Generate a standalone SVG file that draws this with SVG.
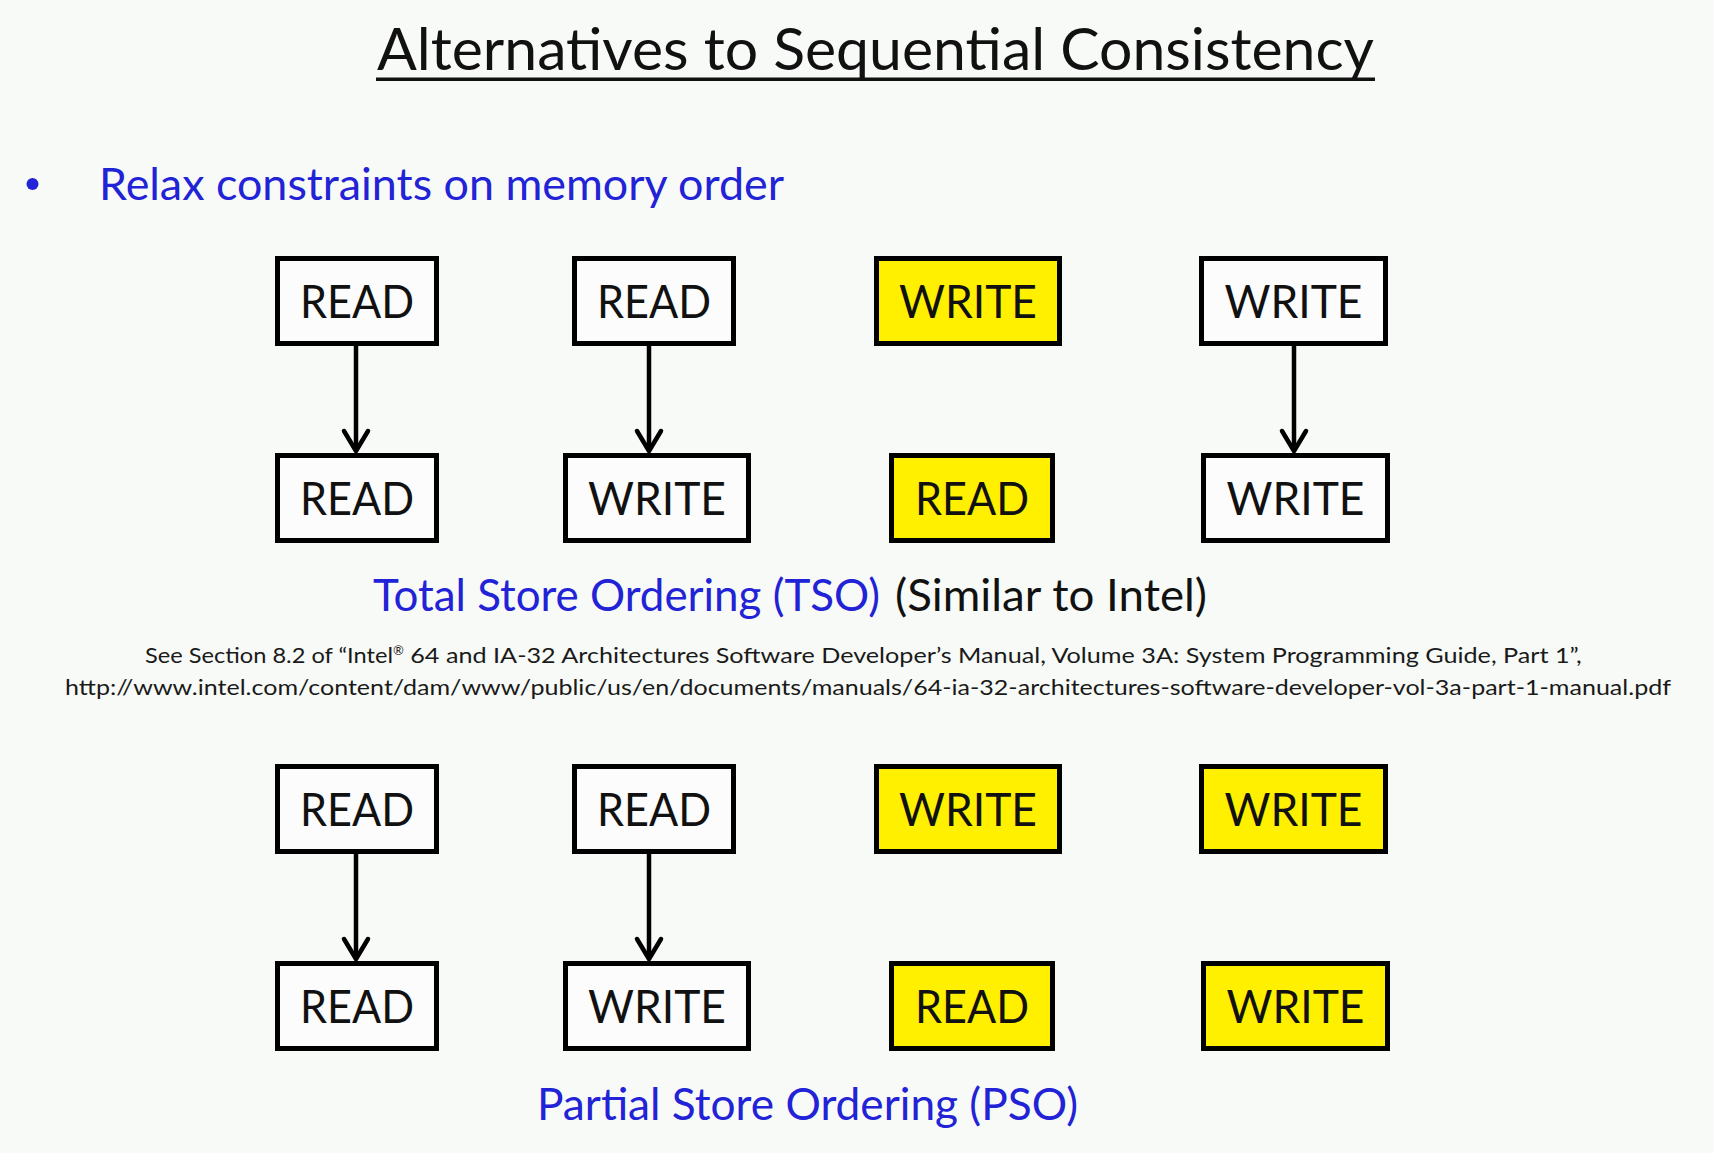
<svg xmlns="http://www.w3.org/2000/svg" width="1714" height="1153" viewBox="0 0 1714 1153">
  <style>
    .bg { fill: #f8faf7; }
    .title { font-family: Lato, "Open Sans", "Liberation Sans", sans-serif; font-size: 59px; fill: #111; }
    .blue { font-family: Lato, "Open Sans", "Liberation Sans", sans-serif; font-size: 44px; fill: #2222d6; }
    .black { font-family: Lato, "Open Sans", "Liberation Sans", sans-serif; font-size: 44px; fill: #111; }
    .note { font-family: Lato, "Open Sans", "Liberation Sans", sans-serif; font-size: 22px; fill: #1a1a1a; }
    .box { fill: #fbfcfb; stroke: #000; stroke-width: 5; }
    .box.hl { fill: #fff000; }
    .lbl { font-family: Lato, "Open Sans", "Liberation Sans", sans-serif; font-size: 46px; fill: #111; text-anchor: middle; }
    .edge { stroke: #000; stroke-width: 4.5; fill: none; }
  </style>
  <defs>
    <marker id="chev" markerUnits="userSpaceOnUse" viewBox="-26 -16 30 32" refX="0" refY="0" markerWidth="30" markerHeight="32" orient="auto">
      <path d="M -20 -12 L 0 0 L -20 12" fill="none" stroke="#000" stroke-width="4.5" stroke-linecap="round" stroke-linejoin="round"/>
    </marker>
  </defs>

  <rect class="bg" x="0" y="0" width="1714" height="1153"/>

  <!-- heading -->
  <text class="title" x="377" y="70" textLength="997" lengthAdjust="spacingAndGlyphs">Alternatives to Sequential Consistency</text>
  <rect x="376" y="77.5" width="999" height="3.5" fill="#111"/>

  <!-- bullet -->
  <circle cx="32.5" cy="184" r="6" fill="#2222d6"/>
  <text class="blue" x="99" y="200" textLength="685" lengthAdjust="spacingAndGlyphs">Relax constraints on memory order</text>

  <!-- TSO: top row -->
  <g id="tso-r1"><rect class="box" x="277.5" y="258.5" width="159" height="85"/><text class="lbl" x="357" y="317.5" textLength="114" lengthAdjust="spacingAndGlyphs">READ</text></g>
  <g id="tso-r2"><rect class="box" x="574.5" y="258.5" width="159" height="85"/><text class="lbl" x="654" y="317.5" textLength="114" lengthAdjust="spacingAndGlyphs">READ</text></g>
  <g id="tso-w3"><rect class="box hl" x="876.5" y="258.5" width="183" height="85"/><text class="lbl" x="968" y="317.5" textLength="138" lengthAdjust="spacingAndGlyphs">WRITE</text></g>
  <g id="tso-w4"><rect class="box" x="1201.5" y="258.5" width="184" height="85"/><text class="lbl" x="1293.5" y="317.5" textLength="138" lengthAdjust="spacingAndGlyphs">WRITE</text></g>
  <!-- TSO: bottom row -->
  <g id="tso-r1b"><rect class="box" x="277.5" y="455.5" width="159" height="85"/><text class="lbl" x="357" y="514.5" textLength="114" lengthAdjust="spacingAndGlyphs">READ</text></g>
  <g id="tso-w2b"><rect class="box" x="565.5" y="455.5" width="183" height="85"/><text class="lbl" x="657" y="514.5" textLength="138" lengthAdjust="spacingAndGlyphs">WRITE</text></g>
  <g id="tso-r3b"><rect class="box hl" x="891.5" y="455.5" width="161" height="85"/><text class="lbl" x="972" y="514.5" textLength="114" lengthAdjust="spacingAndGlyphs">READ</text></g>
  <g id="tso-w4b"><rect class="box" x="1203.5" y="455.5" width="184" height="85"/><text class="lbl" x="1295.5" y="514.5" textLength="138" lengthAdjust="spacingAndGlyphs">WRITE</text></g>

  <text class="blue" x="373" y="611" textLength="507" lengthAdjust="spacingAndGlyphs">Total Store Ordering (TSO)</text>
  <text class="black" x="895" y="611" textLength="312" lengthAdjust="spacingAndGlyphs">(Similar to Intel)</text>

  <!-- reference note: two lines, the mark after Intel set small and raised -->
  <text class="note" x="145" y="663">
    <tspan textLength="248" lengthAdjust="spacingAndGlyphs">See Section 8.2 of “Intel</tspan><tspan font-size="13" dy="-8">®</tspan><tspan dy="8" textLength="1178" lengthAdjust="spacingAndGlyphs"> 64 and IA-32 Architectures Software Developer’s Manual, Volume 3A: System Programming Guide, Part 1”,</tspan>
  </text>
  <text class="note" x="65" y="695" textLength="1606" lengthAdjust="spacingAndGlyphs">http://www.intel.com/content/dam/www/public/us/en/documents/manuals/64-ia-32-architectures-software-developer-vol-3a-part-1-manual.pdf</text>

  <!-- PSO: top row -->
  <g id="pso-r1"><rect class="box" x="277.5" y="766.5" width="159" height="85"/><text class="lbl" x="357" y="825.5" textLength="114" lengthAdjust="spacingAndGlyphs">READ</text></g>
  <g id="pso-r2"><rect class="box" x="574.5" y="766.5" width="159" height="85"/><text class="lbl" x="654" y="825.5" textLength="114" lengthAdjust="spacingAndGlyphs">READ</text></g>
  <g id="pso-w3"><rect class="box hl" x="876.5" y="766.5" width="183" height="85"/><text class="lbl" x="968" y="825.5" textLength="138" lengthAdjust="spacingAndGlyphs">WRITE</text></g>
  <g id="pso-w4"><rect class="box hl" x="1201.5" y="766.5" width="184" height="85"/><text class="lbl" x="1293.5" y="825.5" textLength="138" lengthAdjust="spacingAndGlyphs">WRITE</text></g>
  <!-- PSO: bottom row -->
  <g id="pso-r1b"><rect class="box" x="277.5" y="963.5" width="159" height="85"/><text class="lbl" x="357" y="1022.5" textLength="114" lengthAdjust="spacingAndGlyphs">READ</text></g>
  <g id="pso-w2b"><rect class="box" x="565.5" y="963.5" width="183" height="85"/><text class="lbl" x="657" y="1022.5" textLength="138" lengthAdjust="spacingAndGlyphs">WRITE</text></g>
  <g id="pso-r3b"><rect class="box hl" x="891.5" y="963.5" width="161" height="85"/><text class="lbl" x="972" y="1022.5" textLength="114" lengthAdjust="spacingAndGlyphs">READ</text></g>
  <g id="pso-w4b"><rect class="box hl" x="1203.5" y="963.5" width="184" height="85"/><text class="lbl" x="1295.5" y="1022.5" textLength="138" lengthAdjust="spacingAndGlyphs">WRITE</text></g>

  <text class="blue" x="537" y="1120" textLength="541" lengthAdjust="spacingAndGlyphs">Partial Store Ordering (PSO)</text>

  <!-- ordering arrows -->
  <g id="connectors">
    <line class="edge" x1="356" y1="346" x2="356" y2="451" marker-end="url(#chev)"/>
    <line class="edge" x1="649" y1="346" x2="649" y2="451" marker-end="url(#chev)"/>
    <line class="edge" x1="1294" y1="346" x2="1294" y2="451" marker-end="url(#chev)"/>
    <line class="edge" x1="356" y1="854" x2="356" y2="959" marker-end="url(#chev)"/>
    <line class="edge" x1="649" y1="854" x2="649" y2="959" marker-end="url(#chev)"/>
  </g>
</svg>
